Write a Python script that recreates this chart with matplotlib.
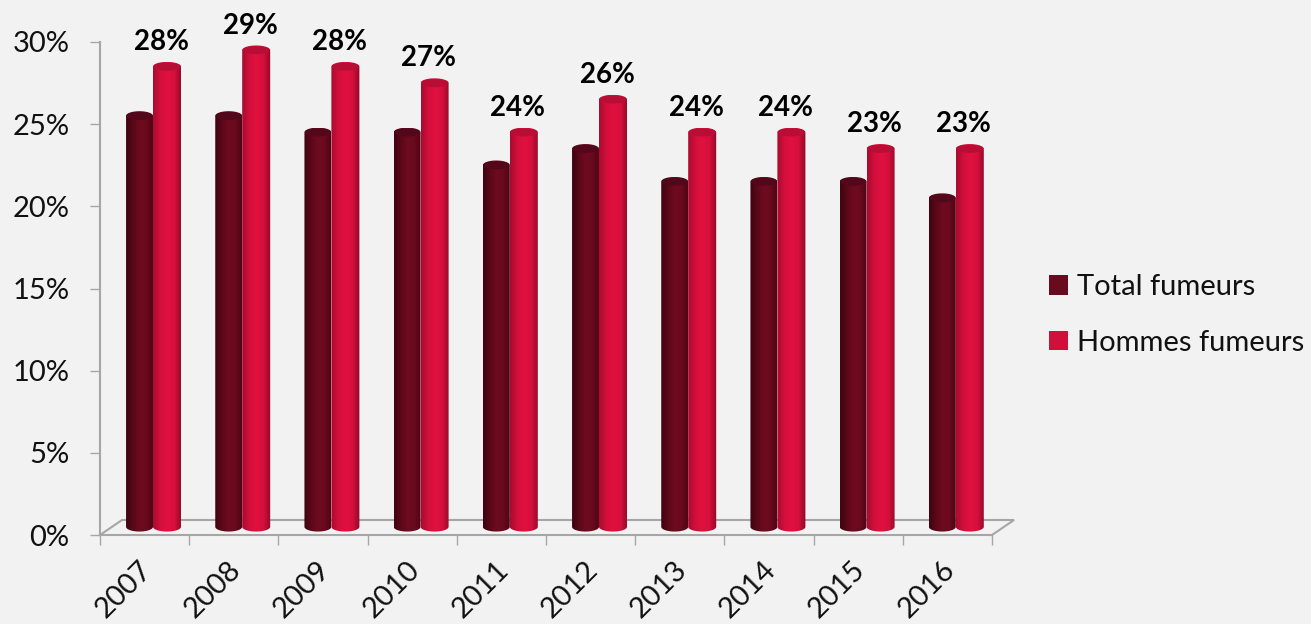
import numpy as np
import matplotlib
matplotlib.use("Agg")
import matplotlib.pyplot as plt
from matplotlib.colors import LinearSegmentedColormap
from matplotlib.patches import Ellipse, Patch, Polygon
from matplotlib.transforms import ScaledTranslation

years = ["2007", "2008", "2009", "2010", "2011", "2012", "2013", "2014", "2015", "2016"]
total_fumeurs = [25, 25, 24, 24, 22, 23, 21, 21, 21, 20]
hommes_fumeurs = [28, 29, 28, 27, 24, 26, 24, 24, 23, 23]
y_ticks = [0, 5, 10, 15, 20, 25, 30]

BG = "#f2f2f2"
AXIS = "#a6a6a6"
DARK_CMAP = LinearSegmentedColormap.from_list("dark", ["#3f0412", "#590818", "#6e0b20", "#6a0a1e", "#4f0615"])
RED_CMAP = LinearSegmentedColormap.from_list("red", ["#a80c30", "#d20f3b", "#e0113f", "#d60f3c", "#8f0a28"])

plt.rcParams["font.family"] = ["Lato", "DejaVu Sans"]

W, H = 1311, 624
fig = plt.figure(figsize=(W / 100, H / 100), dpi=100, facecolor=BG)
ax = fig.add_axes([100 / W, 1 - 535 / H, 892 / W, 493 / H], facecolor="none")
ax.set_xlim(-0.5, 9.5)
ax.set_ylim(0, 30)

# chart depth, in data units
depth_x = 22 / 89.2
depth_y = 15 / 16.43
base = 0.5
ry = 0.29


def cylinder(x0, x1, value, cmap, cap_color, zorder):
    cx = (x0 + x1) / 2
    rx = (x1 - x0) / 2
    top = value + base
    t = np.linspace(0, np.pi, 40)
    # outline: top edge of the cap, then down and round the bottom
    upper = np.column_stack([cx - rx * np.cos(t), top + ry * np.sin(t)])
    lower = np.column_stack([cx + rx * np.cos(t), base - ry * np.sin(t)])
    body = Polygon(np.vstack([upper, lower]), closed=True, fc="none", ec="none", zorder=zorder)
    ax.add_patch(body)
    grad = np.linspace(0, 1, 64).reshape(1, -1)
    im = ax.imshow(grad, cmap=cmap, extent=[x0, x1, base - ry, top + ry], aspect="auto", zorder=zorder)
    im.set_clip_path(body)
    ax.add_patch(Ellipse((cx, top), 2 * rx * 0.97, 2 * ry * 0.85, fc=cap_color, ec="none", zorder=zorder + 0.1))


# floor, drawn behind the bars
ax.plot([-0.5, -0.5 + depth_x, 9.5 + depth_x, 9.5], [0, depth_y, depth_y, 0],
        color=AXIS, lw=1.5, clip_on=False, zorder=1, solid_joinstyle="miter")

for i, (tot, hom) in enumerate(zip(total_fumeurs, hommes_fumeurs)):
    cylinder(i - 0.208, i + 0.094, tot, DARK_CMAP, "#52071a", 3)
    cylinder(i + 0.094, i + 0.408, hom, RED_CMAP, "#b80d35", 4)
    ax.text(i + 0.185, hom + 2.0, f"{hom}%", ha="center", va="center",
            fontsize=20, fontweight="bold", color="black", clip_on=False, zorder=6)

ax.set_xlim(-0.5, 9.5)
ax.set_ylim(0, 30)

for side in ["top", "right"]:
    ax.spines[side].set_visible(False)
for side in ["left", "bottom"]:
    ax.spines[side].set_color(AXIS)
    ax.spines[side].set_linewidth(1.5)

ax.set_yticks(y_ticks)
ax.set_yticklabels([f"{v}%" for v in y_ticks], fontsize=21, color="#111111")
ax.tick_params(axis="y", length=7, width=1, color=AXIS, pad=15)

# ticks sit between the categories, labels under the centres
ax.set_xticks(np.arange(-0.5, 10, 1))
ax.set_xticklabels([])
ax.tick_params(axis="x", which="major", length=7, width=1, color=AXIS)
ax.set_xticks(np.arange(len(years)), minor=True)
ax.set_xticklabels(years, minor=True, rotation=45, ha="right", va="center", rotation_mode="anchor",
                   fontsize=21, color="#111111")
ax.tick_params(axis="x", which="minor", length=0, pad=22)
shift = ScaledTranslation(3 / 100, 0, fig.dpi_scale_trans)
for label in ax.get_xticklabels(minor=True):
    label.set_transform(label.get_transform() + shift)

handles = [Patch(fc="#6a0a1f", ec="none", label="Total fumeurs"),
           Patch(fc="#d00f3b", ec="none", label="Hommes fumeurs")]
fig.legend(handles=handles, loc="center left", bbox_to_anchor=(1040 / W, 1 - 315 / H),
           frameon=False, fontsize=21, handlelength=0.65, handleheight=0.65,
           handletextpad=0.31, labelspacing=1.02, labelcolor="#111111", borderaxespad=0, borderpad=0.3)

fig.savefig("out.png", dpi=100, facecolor=BG)
